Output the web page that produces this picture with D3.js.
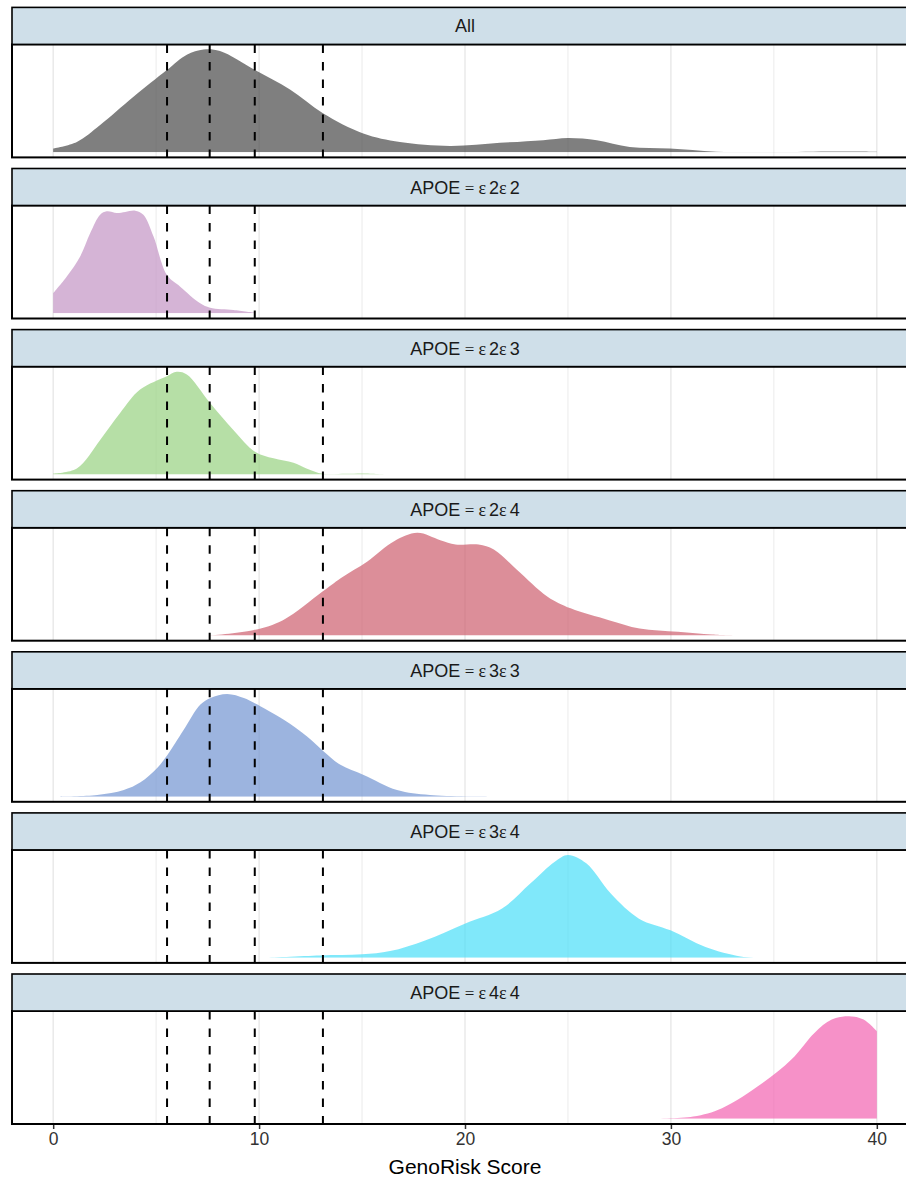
<!DOCTYPE html>
<html>
<head>
<meta charset="utf-8">
<script src="https://cdn.jsdelivr.net/npm/d3@7"></script>
<style>
  body { margin: 0; background: #fff; }
  svg { display: block; font-family: "Liberation Sans", Arial, sans-serif; }
</style>
</head>
<body>
<div id="chart"></div>
<script>
// Panel labels (facet strips)
const panelLabels = ["All", "ε2ε2", "ε2ε3", "ε2ε4", "ε3ε3", "ε3ε4", "ε4ε4"];

// Fill colours per panel
const panelColors = ["#484848", "#c394c4", "#97d180", "#cd5e6d", "#7294d1", "#4adef8", "#f262b0"];

// Risk cut-offs (dashed lines) and how many are drawn in each panel
const cutoffs = [5.53, 7.60, 9.79, 13.10];
const cutoffCount = [4, 3, 4, 4, 4, 4, 4];

// x axis ticks
const xTicks = [0, 10, 20, 30, 40];
const xGrid = [0, 5, 10, 15, 20, 25, 30, 35, 40];

// Densities: [score, relative density]
const densAll = [[0, 0.036], [1.15, 0.10], [2.28, 0.265], [3.9, 0.54], [5.52, 0.80], [6.49, 0.95],
  [7.3, 1.0], [8.1, 0.985], [9.8, 0.80], [11.5, 0.61], [13.1, 0.38], [15.06, 0.183], [16.84, 0.10],
  [19.27, 0.062], [21.7, 0.092], [23.8, 0.118], [25.0, 0.14], [26.4, 0.118], [28.0, 0.052],
  [29.95, 0.036], [32.2, 0.006], [35, 0.002], [38, 0.008], [40, 0.006]];
const dens22 = [[0, 0.195], [0.66, 0.358], [1.31, 0.554], [1.8, 0.782], [2.28, 0.96], [2.6, 0.993],
  [3.09, 0.977], [3.5, 0.987], [3.98, 1.0], [4.38, 0.96], [4.87, 0.75], [5.52, 0.375], [6.17, 0.26],
  [7.14, 0.098], [7.62, 0.055], [8.75, 0.033], [9.8, 0.006]];
const dens23 = [[0, 0.01], [1.15, 0.059], [2.28, 0.336], [3.25, 0.598], [4.22, 0.826], [5.52, 0.957],
  [6.0, 1.0], [6.49, 0.974], [7.62, 0.696], [8.75, 0.434], [9.8, 0.222], [10.7, 0.157], [11.67, 0.114],
  [12.3, 0.059], [13.1, 0.006], [14.2, 0.006], [15.06, 0.01], [16.2, 0.0]];
const dens24 = [[7.5, 0.0], [9.71, 0.052], [11.16, 0.15], [13.08, 0.428], [13.96, 0.559], [15.26, 0.722],
  [16.56, 0.918], [17.68, 1.0], [18.8, 0.928], [19.54, 0.886], [20.66, 0.886], [21.4, 0.837],
  [22.52, 0.641], [24.01, 0.379], [25.13, 0.265], [26.99, 0.15], [28.48, 0.069], [30.34, 0.036],
  [32.0, 0.01], [33.2, 0.0]];
const dens33 = [[0.3, 0.0], [2.14, 0.016], [3.43, 0.065], [4.24, 0.14], [5.05, 0.28], [5.53, 0.40],
  [6.34, 0.651], [7.15, 0.896], [7.64, 0.961], [8.45, 1.0], [9.26, 0.961], [9.77, 0.912], [11.2, 0.749],
  [12.33, 0.586], [13.14, 0.44], [13.95, 0.31], [15.08, 0.212], [16.7, 0.065], [18.3, 0.016], [21.2, 0.0]];
const dens34 = [[10.3, 0.0], [12.96, 0.023], [15.0, 0.033], [16.36, 0.065], [18.06, 0.169], [19.99, 0.332],
  [21.8, 0.479], [23.17, 0.723], [24.36, 0.935], [25.0, 1.0], [25.89, 0.919], [27.08, 0.625],
  [28.45, 0.381], [29.98, 0.267], [31.68, 0.104], [33.38, 0.013], [34.4, 0.0]];
const dens44 = [[29.0, 0.0], [31.08, 0.023], [32.48, 0.104], [34.45, 0.349], [35.85, 0.577], [36.97, 0.837],
  [37.81, 0.967], [38.65, 1.0], [39.36, 0.967], [40, 0.853]];

const densities = [densAll, dens22, dens23, dens24, dens33, dens34, dens44];

// Layout
const width = 906, height = 1179;
const left = 12, right = 918;
const firstTop = 7.4, step = 161.1, stripH = 37, panelH = 113;

const svg = d3.select("#chart").append("svg")
  .attr("width", width)
  .attr("height", height);

const x = d3.scaleLinear().domain([-2, 42]).range([left, right]);

panelLabels.forEach((label, i) => {
  const top = firstTop + i * step;
  const pTop = top + stripH;
  const pBottom = pTop + panelH;
  const data = densities[i];
  const ymax = d3.max(data, d => d[1]);
  const y = d3.scaleLinear().domain([-0.05 * ymax, 1.05 * ymax]).range([pBottom, pTop]);

  const g = svg.append("g").attr("class", "panel");

  // panel background
  g.append("rect")
    .attr("x", left).attr("y", pTop)
    .attr("width", right - left).attr("height", panelH)
    .attr("fill", "#fff");

  // grid
  g.selectAll(".grid")
    .data(xGrid)
    .enter()
    .append("line")
    .attr("x1", d => x(d)).attr("x2", d => x(d))
    .attr("y1", pTop).attr("y2", pBottom)
    .attr("stroke", "#e6e6e6")
    .attr("stroke-width", d => d % 10 === 0 ? 1.3 : 0.8);

  // clip so the smoothed curve never dips under the baseline
  const clipId = "clip" + i;
  g.append("clipPath").attr("id", clipId)
    .append("rect")
    .attr("x", left).attr("y", pTop)
    .attr("width", right - left).attr("height", y(0) - pTop);

  // density area
  const area = d3.area()
    .x(d => x(d[0]))
    .y0(y(0))
    .y1(d => y(d[1]))
    .curve(d3.curveCatmullRom.alpha(0.5));

  g.append("path")
    .datum(data)
    .attr("d", area)
    .attr("clip-path", `url(#${clipId})`)
    .attr("fill", panelColors[i])
    .attr("fill-opacity", 0.7);

  // dashed cut-offs
  g.selectAll(".cut")
    .data(cutoffs.slice(0, cutoffCount[i]))
    .enter()
    .append("line")
    .attr("x1", d => x(d)).attr("x2", d => x(d))
    .attr("y1", pTop).attr("y2", pBottom)
    .attr("stroke", "#000")
    .attr("stroke-width", 2)
    .attr("stroke-dasharray", "8.5,9");

  // panel border
  g.append("rect")
    .attr("x", left).attr("y", pTop)
    .attr("width", right - left).attr("height", panelH)
    .attr("fill", "none")
    .attr("stroke", "#000")
    .attr("stroke-width", 2);

  // strip
  g.append("rect")
    .attr("x", left).attr("y", top)
    .attr("width", right - left).attr("height", stripH)
    .attr("fill", "#cfdfe9")
    .attr("stroke", "#000")
    .attr("stroke-width", 1.6);

  const txt = g.append("text")
    .attr("x", (left + right) / 2)
    .attr("y", top + stripH / 2 + 6.5)
    .attr("text-anchor", "middle")
    .attr("font-size", 18)
    .attr("fill", "#1a1a1a");

  if (label === "All") {
    txt.text(label);
  } else {
    txt.append("tspan").text("APOE");
    txt.append("tspan").attr("font-family", "'Liberation Serif', serif").attr("font-size", 17).text(" = ");
    label.match(/ε\d/g).forEach(part => {
      txt.append("tspan").attr("font-family", "'Liberation Serif', serif").text("ε");
      txt.append("tspan").attr("dx", 3).text(part.slice(1));
    });
  }
});

// x axis under last panel
const axisY = firstTop + 6 * step + stripH + panelH;
const axis = svg.append("g")
  .attr("transform", `translate(0,${axisY + 1})`)
  .call(d3.axisBottom(x).tickValues(xTicks).tickSize(4).tickPadding(4).tickFormat(d3.format("d")));
axis.select(".domain").remove();
axis.selectAll(".tick line").attr("stroke", "#333").attr("stroke-width", 1.5);
axis.selectAll(".tick text")
  .attr("font-size", 17.5)
  .attr("fill", "#333")
  .attr("font-family", "'Liberation Sans', Arial, sans-serif");

svg.append("text")
  .attr("x", (left + right) / 2)
  .attr("y", 1174)
  .attr("text-anchor", "middle")
  .attr("font-size", 21)
  .attr("fill", "#000")
  .text("GenoRisk Score");
</script>
</body>
</html>
